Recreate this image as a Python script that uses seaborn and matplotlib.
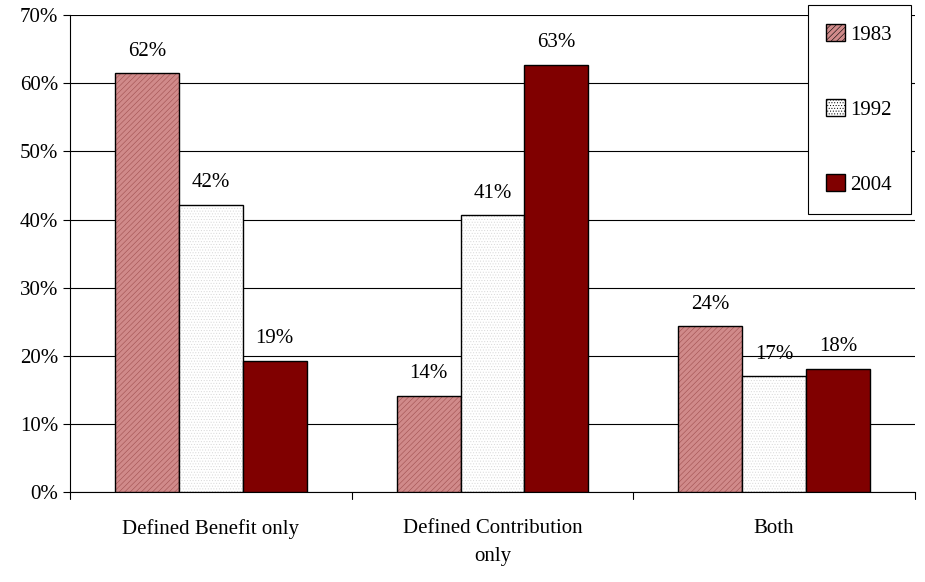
import matplotlib
matplotlib.use("Agg")
import matplotlib.pyplot as plt
import seaborn as sns
import pandas as pd
from matplotlib.ticker import FixedLocator, PercentFormatter

categories = ["Defined Benefit only", "Defined Contribution\nonly", "Both"]
years = ["1983", "1992", "2004"]
values_1983 = [61.5, 14.1, 24.3]
values_1992 = [42.2, 40.6, 17.0]
values_2004 = [19.3, 62.7, 18.1]
labels_1983 = ["62%", "14%", "24%"]
labels_1992 = ["42%", "41%", "17%"]
labels_2004 = ["19%", "63%", "18%"]

rows = []
for yr, vals in zip(years, [values_1983, values_1992, values_2004]):
    for c, v in zip(categories, vals):
        rows.append({"cat": c, "year": yr, "val": v})
df = pd.DataFrame(rows)

sns.set_style("white")
plt.rcParams["font.family"] = ["Liberation Serif", "DejaVu Serif"]
plt.rcParams["hatch.linewidth"] = 0.4
plt.rcParams["text.color"] = "black"
plt.rcParams["xtick.color"] = "black"
plt.rcParams["ytick.color"] = "black"

fig = plt.figure(figsize=(9.25, 5.82), dpi=100)
ax = fig.add_axes([0.0757, 0.1546, 0.9133, 0.8194])
palette = {"1983": "#d08a8a", "1992": "#ffffff", "2004": "#800000"}
sns.barplot(data=df, x="cat", y="val", hue="year", palette=palette, width=0.68,
            saturation=1, edgecolor="black", linewidth=1, ax=ax, zorder=3)

hatches = {"1983": "//////", "1992": "......", "2004": None}
hcolors = {"1983": "#a05050", "1992": "#d8d8d8"}
for cont, yr, labs in zip(ax.containers, years, [labels_1983, labels_1992, labels_2004]):
    for bar in cont:
        if hatches[yr]:
            bar.set_hatch(hatches[yr])
            bar._hatch_color = matplotlib.colors.to_rgba(hcolors[yr])
    ax.bar_label(cont, labels=labs, padding=9, fontsize=15, color="black")

ax.set_ylim(0, 70)
ax.set_xlim(-0.5, 2.5)
ax.yaxis.set_major_locator(FixedLocator(range(0, 71, 10)))
ax.yaxis.set_major_formatter(PercentFormatter(decimals=0))
ax.yaxis.grid(True, color="black", linewidth=0.8, zorder=0)
ax.set_axisbelow(True)
for s in ["top", "right"]:
    ax.spines[s].set_visible(False)
for s in ["left", "bottom"]:
    ax.spines[s].set_color("black")
ax.tick_params(axis="y", left=True, length=5, labelsize=15)
ax.set_xticks([0, 1, 2])
ax.set_xticklabels(categories, fontsize=15, linespacing=1.6)
ax.tick_params(axis="x", bottom=False, pad=16)
for xb in [-0.5, 0.5, 1.5, 2.5]:
    ax.plot([xb, xb], [0, -1.0], color="black", lw=0.8, clip_on=False)
ax.set_xlabel("")
ax.set_ylabel("")

leg = ax.legend(loc="upper left", bbox_to_anchor=(0.873, 0.991), bbox_transform=fig.transFigure,
                fontsize=15, frameon=True, fancybox=False, edgecolor="black",
                labelspacing=2.6, borderpad=0.9, handlelength=0.9, handleheight=0.9,
                handletextpad=0.25, borderaxespad=0, framealpha=1)
leg.get_frame().set_linewidth(0.8)
for h, yr in zip(leg.legend_handles, years):
    h.set_edgecolor("black")
    if hatches[yr]:
        h.set_hatch(hatches[yr])

fig.savefig("out.png", dpi=100)
